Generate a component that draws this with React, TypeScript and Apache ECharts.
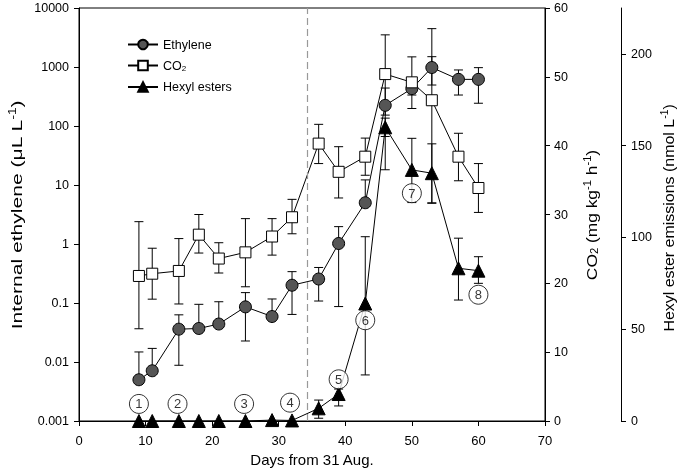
import React, { useEffect, useRef } from "react";
import * as echarts from "echarts";

const days = [9, 11, 15, 18, 21, 25, 29, 32, 36, 39, 43, 46, 50, 53, 57, 60];

const ethylene = [0.005, 0.0071, 0.036, 0.037, 0.044, 0.086, 0.059, 0.2, 0.255, 1.02, 5.0, 224, 430, 980, 617, 617];
const ethyleneHigh = [0.0148, 0.017, 0.063, 0.095, 0.105, 0.15, 0.117, 0.34, 0.4, 1.97, 12.2, 440, 560, 1496, 891, 975];
const ethyleneLow = [null, null, 0.0088, null, null, 0.0227, null, 0.064, 0.108, 0.087, null, 153, 335, 495, 335, 243];

const co2 = [21.07, 21.4, 21.8, 27.07, 23.6, 24.5, 26.8, 29.6, 40.3, 36.2, 38.4, 50.4, 49.2, 46.6, 38.4, 33.85];
const co2High = [28.96, 25.1, 26.5, 30.0, 25.9, 29.4, 29.4, 32.2, 43.1, 39.85, 41.1, 56.1, 52.9, 57.0, 41.8, 37.4];
const co2Low = [13.4, 17.7, 17.0, 24.4, 21.5, 19.5, 24.1, 27.2, 37.4, 32.4, 35.7, 36.5, 45.4, 31.7, 34.9, 30.3];

const hexyl = [0, 0, 0, 0, 0, 0, 0.5, 0.3, 6.9, 14.7, 64, 160, 136.8, 135, 83.2, 81.9];
const hexylHigh = [null, null, null, null, null, null, null, null, 11.4, 17.4, 100.4, 165, 154, 151, 99.6, 89.5];
const hexylLow = [null, null, null, null, null, null, null, null, 1.5, 8.2, 25.1, 155, 119, 118.6, 65.9, 75];

const stageLabels = ["1", "2", "3", "4", "5", "6", "7", "8"];
const stageDays = [9, 14.8, 24.8, 31.7, 39, 43, 50, 60];
const stageY = [9.3, 9.3, 9.3, 10, 22.7, 54.9, 124.1, 68.8];

const harvestDay = 34.3;

const FONT = "'Liberation Sans', Arial, sans-serif";

function errData(vals: number[], lows: (number | null)[], highs: (number | null)[]) {
  const out: any[] = [];
  for (let i = 0; i < days.length; i++) {
    if (highs[i] == null && lows[i] == null) continue;
    const hi = highs[i] == null ? vals[i] : (highs[i] as number);
    const lo = lows[i] == null ? vals[i] : (lows[i] as number);
    out.push([days[i], lo, hi, lows[i] == null ? 0 : 1, highs[i] == null ? 0 : 1]);
  }
  return out;
}

function renderErr(params: any, api: any) {
  const x = api.value(0);
  const lo = api.value(1);
  const hi = api.value(2);
  const capLo = api.value(3);
  const capHi = api.value(4);
  const pHi = api.coord([x, hi]);
  const pLo = api.coord([x, lo]);
  const w = 4.5;
  const style = { stroke: "#000", lineWidth: 1 };
  const children: any[] = [
    { type: "line", shape: { x1: pHi[0], y1: pHi[1], x2: pLo[0], y2: pLo[1] }, style },
  ];
  if (capHi) children.push({ type: "line", shape: { x1: pHi[0] - w, y1: pHi[1], x2: pHi[0] + w, y2: pHi[1] }, style });
  if (capLo) children.push({ type: "line", shape: { x1: pLo[0] - w, y1: pLo[1], x2: pLo[0] + w, y2: pLo[1] }, style });
  return { type: "group", children };
}

function logLabel(v: number) {
  const e = Math.round(Math.log10(v));
  return e >= 0 ? String(Math.pow(10, e)) : Math.pow(10, e).toFixed(-e);
}

export default function App() {
  const ref = useRef<HTMLDivElement>(null);
  useEffect(() => {
    if (!ref.current) return;
    const chart = echarts.init(ref.current, null, { renderer: "svg" });
    const axisCommon = {
      axisLine: { show: true, onZero: false, lineStyle: { color: "#000", width: 1 } },
      axisTick: { show: true, inside: false, length: 5, lineStyle: { color: "#000" } },
      splitLine: { show: false },
      axisLabel: { color: "#000", fontSize: 12.5, fontFamily: FONT },
    };
    const richG = {
      sup: { fontSize: 10, fontFamily: FONT, fill: "#000", padding: [0, 0, 8, 0] },
      sub: { fontSize: 10, fontFamily: FONT, fill: "#000", padding: [7, 0, 0, 0] },
    };
    const legendRich = {
      sub: { fontSize: 8, fontFamily: FONT, color: "#000", padding: [6, 0, 0, 0] },
    };
    const vText = (x: number, y: number, text: string, sx: number) => ({
      type: "text",
      x,
      y,
      rotation: Math.PI / 2,
      scaleX: sx,
      silent: true,
      style: {
        text,
        rich: richG,
        fontSize: 15.5,
        fontFamily: FONT,
        fill: "#000",
        align: "center",
        verticalAlign: "middle",
      },
    });
    const option: any = {
      animation: false,
      grid: { left: 79, right: 140, top: 8, bottom: 52, show: true, borderColor: "#000", borderWidth: 1, backgroundColor: "transparent" },
      legend: {
        data: ["Ethylene", "CO2", "Hexyl esters"],
        orient: "vertical",
        left: 127,
        top: 38,
        padding: 0,
        itemWidth: 30,
        itemHeight: 12,
        itemGap: 8,
        formatter: (n: string) => (n === "CO2" ? "CO{sub|2}" : n),
        textStyle: { color: "#000", fontSize: 12.5, fontFamily: FONT, rich: legendRich },
      },
      graphic: [
        vText(17, 215, "Internal ethylene (μL L{sup|-1})", 1.36),
        vText(591, 215, "CO{sub|2} (mg kg{sup|-1} h{sup|-1})", 1.12),
        vText(669, 218, "Hexyl ester emissions (nmol L{sup|-1})", 1.03),
      ],
      xAxis: {
        type: "value",
        min: 0,
        max: 70,
        interval: 10,
        name: "Days from 31 Aug.",
        nameLocation: "middle",
        nameGap: 31,
        nameTextStyle: { color: "#000", fontSize: 15, fontFamily: FONT },
        ...axisCommon,
        axisLabel: { ...axisCommon.axisLabel, fontSize: 13, margin: 13 },
      },
      yAxis: [
        {
          type: "log",
          logBase: 10,
          min: 0.001,
          max: 10000,
          position: "left",
          ...axisCommon,
          axisLabel: { ...axisCommon.axisLabel, margin: 10, formatter: logLabel },
        },
        {
          type: "value",
          min: 0,
          max: 60,
          interval: 10,
          position: "right",
          ...axisCommon,
          axisLabel: { ...axisCommon.axisLabel, margin: 9 },
        },
        {
          type: "value",
          min: 0,
          max: 225,
          interval: 50,
          position: "right",
          offset: 76,
          ...axisCommon,
          axisLabel: { ...axisCommon.axisLabel, margin: 10, showMaxLabel: false },
        },
      ],
      series: [
        {
          type: "custom",
          name: "ethErr",
          yAxisIndex: 0,
          renderItem: renderErr,
          encode: { x: 0, y: [1, 2] },
          data: errData(ethylene, ethyleneLow, ethyleneHigh),
          z: 1,
          silent: true,
        },
        {
          type: "custom",
          name: "co2Err",
          yAxisIndex: 1,
          renderItem: renderErr,
          encode: { x: 0, y: [1, 2] },
          data: errData(co2, co2Low, co2High),
          z: 1,
          silent: true,
        },
        {
          type: "custom",
          name: "hexErr",
          yAxisIndex: 2,
          renderItem: renderErr,
          encode: { x: 0, y: [1, 2] },
          data: errData(hexyl, hexylLow, hexylHigh),
          z: 1,
          silent: true,
        },
        {
          type: "line",
          name: "Ethylene",
          yAxisIndex: 0,
          data: days.map((d, i) => [d, ethylene[i]]),
          symbol: "circle",
          symbolSize: 12,
          showAllSymbol: true,
          clip: false,
          lineStyle: { color: "#000", width: 1 },
          itemStyle: { color: "#555", borderColor: "#000", borderWidth: 1 },
          z: 3,
          markLine: {
            silent: true,
            symbol: "none",
            label: { show: false },
            lineStyle: { color: "#999", width: 1.2, type: [7, 4] },
            data: [{ xAxis: harvestDay }],
          },
        },
        {
          type: "line",
          name: "CO2",
          yAxisIndex: 1,
          data: days.map((d, i) => [d, co2[i]]),
          symbol: "rect",
          symbolSize: 11,
          showAllSymbol: true,
          clip: false,
          lineStyle: { color: "#000", width: 1 },
          itemStyle: { color: "#fff", borderColor: "#000", borderWidth: 1 },
          z: 4,
        },
        {
          type: "line",
          name: "Hexyl esters",
          yAxisIndex: 2,
          data: days.map((d, i) => [d, hexyl[i]]),
          symbol: "triangle",
          symbolSize: 13,
          showAllSymbol: true,
          clip: false,
          lineStyle: { color: "#000", width: 1 },
          itemStyle: { color: "#000", borderColor: "#000", borderWidth: 1 },
          z: 5,
        },
        {
          type: "scatter",
          name: "stages",
          yAxisIndex: 2,
          data: stageDays.map((d, i) => [d, stageY[i], stageLabels[i]]),
          symbol: "circle",
          symbolSize: 19,
          clip: false,
          itemStyle: { color: "#fff", borderColor: "#000", borderWidth: 1 },
          label: {
            show: true,
            position: "inside",
            formatter: (p: any) => p.data[2],
            color: "#000",
            fontSize: 13,
            fontFamily: FONT,
          },
          z: 6,
        },
      ],
    };
    chart.setOption(option);
    return () => chart.dispose();
  }, []);
  return <div ref={ref} style={{ position: "fixed", left: 0, top: 0, width: 685, height: 473 }} />;
}
